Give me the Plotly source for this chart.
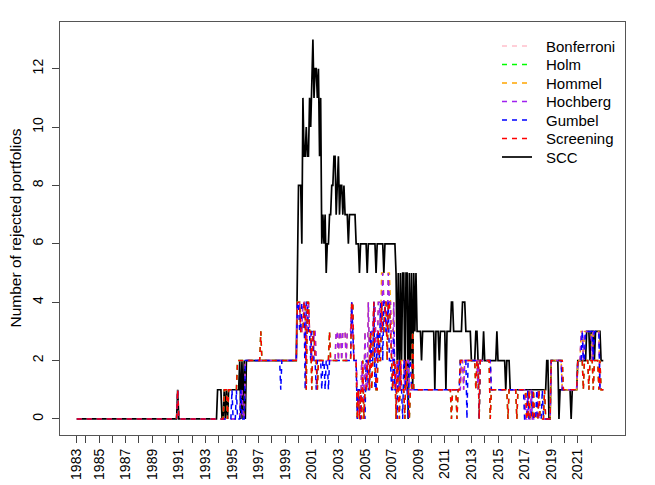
import plotly.graph_objects as go

# ---------------- data (monthly, May 1983 - Dec 2022), run-length encoded ----------------
START = (1983, 5)
END = (2022, 12)

SCC = [
    ("1983-05", 0), ("1990-12", 1), ("1991-01", 0),
    ("1993-12", 1), ("1994-04", 0), ("1994-06", 1), ("1994-07", 0), ("1994-08", 1),
    ("1994-09", 0), ("1994-10", 1), ("1995-08", 2), ("1995-09", 0), ("1995-10", 2),
    ("1995-11", 0), ("1995-12", 2), ("1996-01", 0), ("1996-02", 2),
    ("1999-12", 5), ("2000-01", 8), ("2000-04", 6), ("2000-05", 11), ("2000-06", 9),
    ("2000-08", 10), ("2000-09", 9), ("2000-11", 11), ("2000-12", 10), ("2001-01", 12),
    ("2001-02", 13), ("2001-03", 11), ("2001-04", 12), ("2001-06", 11), ("2001-07", 12),
    ("2001-08", 9), ("2001-09", 11), ("2001-10", 6), ("2001-11", 7), ("2001-12", 6),
    ("2002-01", 7), ("2002-02", 5), ("2002-03", 6), ("2002-05", 7), ("2002-07", 8),
    ("2002-09", 9), ("2002-11", 7), ("2002-12", 8), ("2003-01", 9), ("2003-02", 7),
    ("2003-03", 8), ("2003-05", 7), ("2003-06", 8), ("2003-07", 7), ("2003-10", 6),
    ("2003-11", 7), ("2004-05", 6), ("2004-08", 5), ("2004-09", 6), ("2005-03", 5),
    ("2005-04", 6), ("2005-11", 5), ("2005-12", 6), ("2006-06", 5), ("2006-07", 6),
    ("2007-05", 5), ("2007-06", 2), ("2007-07", 5), ("2007-08", 1), ("2007-09", 5),
    ("2007-10", 2), ("2007-11", 5), ("2008-01", 1), ("2008-02", 5), ("2008-04", 0),
    ("2008-05", 5), ("2008-06", 2), ("2008-07", 5), ("2008-08", 1), ("2008-09", 5),
    ("2008-10", 3), ("2008-11", 5), ("2008-12", 3), ("2009-04", 2), ("2009-05", 3),
    ("2010-04", 1), ("2010-05", 3), ("2010-08", 2), ("2010-09", 3), ("2011-02", 1),
    ("2011-03", 3), ("2011-07", 4), ("2011-09", 3), ("2012-05", 4), ("2012-08", 3),
    ("2013-01", 2), ("2013-05", 3), ("2013-07", 2), ("2013-12", 3), ("2014-01", 2),
    ("2014-12", 3), ("2015-01", 2), ("2015-08", 1), ("2015-09", 2), ("2015-12", 1),
    ("2018-09", 2), ("2018-11", 0), ("2019-01", 2), ("2019-08", 0), ("2019-09", 1),
    ("2020-07", 0), ("2020-08", 1), ("2021-01", 2), ("2021-09", 3), ("2021-12", 2),
    ("2022-01", 3), ("2022-04", 2), ("2022-05", 3), ("2022-10", 2),
]

SCREENING = [
    ("1983-05", 0), ("1990-12", 1), ("1991-01", 0),
    ("1994-06", 1), ("1994-09", 0), ("1994-10", 1), ("1995-06", 2),
    ("1997-03", 3), ("1997-04", 2),
    ("1999-12", 4), ("2000-03", 3), ("2000-06", 4), ("2000-08", 1), ("2000-09", 4),
    ("2000-11", 3), ("2001-01", 1), ("2001-02", 3), ("2001-04", 2), ("2001-06", 1),
    ("2001-07", 2), ("2002-05", 3), ("2002-06", 2), ("2004-01", 4), ("2004-03", 2),
    ("2004-06", 0), ("2004-07", 1), ("2004-08", 0), ("2004-09", 1), ("2004-10", 0),
    ("2004-11", 2), ("2004-12", 0), ("2005-01", 1), ("2005-03", 2), ("2005-05", 1),
    ("2005-06", 3), ("2005-07", 1), ("2005-08", 2), ("2005-09", 4), ("2005-10", 2),
    ("2005-11", 1), ("2006-01", 3), ("2006-02", 2), ("2006-04", 4), ("2006-05", 3),
    ("2006-07", 4), ("2006-09", 2), ("2006-10", 4), ("2006-12", 3), ("2007-01", 2),
    ("2007-02", 1), ("2007-03", 2), ("2007-05", 0), ("2007-06", 2), ("2007-07", 1),
    ("2007-08", 0), ("2007-09", 2), ("2007-10", 1), ("2008-01", 0), ("2008-02", 2),
    ("2008-03", 1), ("2008-05", 0), ("2008-06", 1), ("2008-08", 3), ("2008-09", 1),
    ("2011-07", 0), ("2011-08", 1), ("2011-12", 0), ("2012-01", 1), ("2012-03", 2),
    ("2013-05", 1), ("2013-06", 2), ("2013-08", 0), ("2013-09", 2), ("2014-06", 0),
    ("2014-07", 1), ("2015-10", 0), ("2015-11", 1), ("2016-06", 0), ("2016-07", 1),
    ("2017-03", 0), ("2017-05", 1), ("2017-06", 0), ("2017-09", 1), ("2017-10", 0),
    ("2018-02", 1), ("2018-03", 0), ("2018-07", 1), ("2018-08", 0), ("2019-01", 2),
    ("2019-12", 1), ("2021-01", 2), ("2021-06", 1), ("2021-07", 2), ("2021-11", 1),
    ("2021-12", 2), ("2022-03", 1), ("2022-04", 2), ("2022-08", 1), ("2022-09", 2),
    ("2022-10", 1),
]

GUMBEL = [
    ("1983-05", 0), ("1990-12", 1), ("1991-01", 0),
    ("1995-01", 1), ("1995-02", 0), ("1995-05", 1), ("1995-06", 0), ("1995-09", 1),
    ("1995-10", 0), ("1996-01", 2), ("1998-09", 1), ("1998-10", 2),
    ("1999-12", 4), ("2000-02", 3), ("2000-04", 4), ("2000-07", 1), ("2000-08", 4),
    ("2000-10", 3), ("2000-12", 2), ("2001-01", 3), ("2001-03", 2), ("2001-05", 1),
    ("2001-06", 2), ("2001-10", 1), ("2001-11", 2), ("2002-01", 1), ("2002-02", 2),
    ("2002-04", 1), ("2002-05", 2), ("2004-01", 4), ("2004-02", 3), ("2004-03", 2),
    ("2004-06", 0), ("2004-07", 1), ("2004-09", 0), ("2004-10", 1), ("2005-01", 0),
    ("2005-02", 2), ("2005-04", 1), ("2005-06", 3), ("2005-07", 2), ("2005-09", 4),
    ("2005-10", 1), ("2005-12", 3), ("2006-02", 2), ("2006-03", 4), ("2006-05", 2),
    ("2006-06", 4), ("2006-08", 3), ("2006-10", 4), ("2006-11", 2), ("2007-01", 1),
    ("2007-03", 3), ("2007-04", 1), ("2007-06", 0), ("2007-07", 2), ("2007-09", 1),
    ("2007-11", 0), ("2007-12", 2), ("2008-02", 1), ("2008-04", 0), ("2008-05", 2),
    ("2008-07", 1), ("2012-03", 2), ("2012-09", 0), ("2012-10", 2), ("2013-08", 0),
    ("2013-09", 2), ("2014-07", 1), ("2017-01", 0), ("2017-04", 1), ("2017-05", 0),
    ("2017-08", 1), ("2017-09", 0), ("2017-12", 1), ("2018-01", 0), ("2018-05", 1),
    ("2018-06", 0), ("2019-01", 2), ("2019-11", 1), ("2021-01", 2), ("2021-05", 3),
    ("2021-06", 2), ("2021-08", 3), ("2022-03", 2), ("2022-04", 3), ("2022-09", 1),
]

HOCHBERG = [
    ("1983-05", 0), ("1990-12", 1), ("1991-01", 0),
    ("1995-09", 1), ("1995-11", 0), ("1996-01", 2),
    ("1999-12", 4), ("2000-03", 3), ("2000-05", 4), ("2000-07", 2), ("2000-09", 4),
    ("2000-11", 3), ("2001-01", 2), ("2001-03", 3), ("2001-05", 2), ("2002-11", 3),
    ("2003-01", 2), ("2003-02", 3), ("2003-04", 2), ("2003-05", 3), ("2003-08", 2),
    ("2003-09", 3), ("2004-01", 4), ("2004-02", 3), ("2004-03", 2), ("2004-06", 1),
    ("2004-08", 0), ("2004-10", 2), ("2004-11", 1), ("2005-01", 3), ("2005-02", 1),
    ("2005-04", 4), ("2005-05", 2), ("2005-07", 3), ("2005-09", 4), ("2005-11", 2),
    ("2006-01", 4), ("2006-03", 3), ("2006-05", 5), ("2006-06", 4), ("2006-08", 3),
    ("2006-10", 5), ("2006-11", 4), ("2007-01", 2), ("2007-03", 4), ("2007-04", 1),
    ("2007-06", 2), ("2007-08", 1), ("2007-10", 2), ("2008-01", 1), ("2008-03", 2),
    ("2008-05", 1), ("2012-04", 2), ("2012-06", 1), ("2012-07", 2), ("2013-07", 1),
    ("2013-08", 2), ("2014-07", 1), ("2017-02", 0), ("2017-04", 1), ("2017-05", 0),
    ("2017-07", 1), ("2017-08", 0), ("2018-01", 1), ("2018-02", 0), ("2019-01", 2),
    ("2019-11", 1), ("2021-01", 2), ("2021-04", 3), ("2021-06", 2), ("2021-07", 3),
    ("2022-02", 2), ("2022-03", 3), ("2022-09", 1),
]

HOMMEL = [
    ("1983-05", 0), ("1990-12", 1), ("1991-01", 0),
    ("1995-09", 1), ("1995-11", 0), ("1996-01", 2),
    ("1999-12", 4), ("2000-03", 3), ("2000-05", 4), ("2000-07", 2), ("2000-09", 4),
    ("2000-11", 3), ("2001-01", 2), ("2001-03", 3), ("2001-05", 2), ("2002-11", 3),
    ("2003-01", 2), ("2003-02", 3), ("2003-04", 2), ("2003-05", 3), ("2003-08", 2),
    ("2003-09", 3), ("2004-01", 4), ("2004-02", 3), ("2004-03", 2), ("2004-06", 1),
    ("2004-08", 0), ("2004-10", 2), ("2004-11", 1), ("2005-01", 3), ("2005-02", 1),
    ("2005-04", 4), ("2005-05", 2), ("2005-07", 3), ("2005-09", 4), ("2005-11", 2),
    ("2006-01", 4), ("2006-03", 3), ("2006-04", 5), ("2006-06", 4), ("2006-08", 3),
    ("2006-10", 5), ("2006-12", 4), ("2007-01", 3), ("2007-03", 4), ("2007-04", 1),
    ("2007-06", 2), ("2007-08", 1), ("2007-10", 2), ("2008-01", 1), ("2008-03", 2),
    ("2008-05", 1), ("2012-04", 2), ("2012-06", 1), ("2012-07", 2), ("2013-07", 1),
    ("2013-08", 2), ("2014-07", 1), ("2017-02", 0), ("2017-04", 1), ("2017-05", 0),
    ("2017-07", 1), ("2017-08", 0), ("2018-01", 1), ("2018-02", 0), ("2019-01", 2),
    ("2019-11", 1), ("2021-01", 2), ("2021-04", 3), ("2021-06", 2), ("2021-07", 3),
    ("2022-02", 2), ("2022-03", 3), ("2022-09", 1),
]

# Bonferroni and Holm coincide with other procedures (hidden beneath them in the chart)
BONFERRONI = SCREENING
HOLM = SCREENING

SERIES = [
    ("Bonferroni", BONFERRONI, "#FFC0CB", "dash"),
    ("Holm", HOLM, "#00FF00", "dash"),
    ("Hommel", HOMMEL, "#FFA500", "dash"),
    ("Hochberg", HOCHBERG, "#A020F0", "dash"),
    ("Gumbel", GUMBEL, "#0000FF", "dash"),
    ("Screening", SCREENING, "#FF0000", "dash"),
    ("SCC", SCC, "#000000", "solid"),
]

YEAR_TICKS = list(range(1983, 2023))
Y_TICKS = [0, 2, 4, 6, 8, 10, 12]


def midx(ym):
    y, m = map(int, ym.split("-"))
    return (y - START[0]) * 12 + (m - START[1])


N = midx(f"{END[0]}-{END[1]:02d}") + 1
X = [START[0] + (START[1] - 1 + i) / 12 for i in range(N)]


def expand(changes):
    vals = []
    for i, (ym, v) in enumerate(changes):
        s = midx(ym)
        e = midx(changes[i + 1][0]) if i + 1 < len(changes) else N
        vals += [v] * (e - s)
    return vals


FONT = "Liberation Sans, Arial, Helvetica, sans-serif"
W, H = 655, 485
ML, MR, MT, MB = 60, 30, 22, 50
PW, PH = W - ML - MR, H - MT - MB


def px2paper_x(px):  # page pixel -> paper coordinate
    return (px - ML) / PW


def px2paper_y(py):
    return (H - MB - py) / PH


DASH = "5px,5px"
fig = go.Figure()

traces = {}
for name, ch, col, dash in SERIES:
    traces[name] = go.Scatter(
        x=X, y=expand(ch), mode="lines", name=name, showlegend=False,
        line=dict(color=col, width=1.5 if dash == "dash" else 1.7,
                  dash=DASH if dash == "dash" else "solid"),
    )

# SCC drawn first so the dashed lines sit above it
for n in ["SCC", "Bonferroni", "Holm", "Hommel", "Hochberg", "Gumbel", "Screening"]:
    fig.add_trace(traces[n])

# legend (R-style, no box)
shapes, annotations = [], []
leg_y0, leg_dy = 46, 18.5
for i, (name, ch, col, dash) in enumerate(SERIES):
    yy = px2paper_y(leg_y0 + i * leg_dy)
    shapes.append(dict(type="line", xref="paper", yref="paper",
                       x0=px2paper_x(502), x1=px2paper_x(532), y0=yy, y1=yy,
                       line=dict(color=col, width=1.5 if dash == "dash" else 1.7,
                                 dash=DASH if dash == "dash" else "solid")))
    annotations.append(dict(xref="paper", yref="paper", x=px2paper_x(544), y=yy,
                            xanchor="left", yanchor="middle", text=name, showarrow=False,
                            font=dict(size=15, family=FONT, color="black")))

annotations.append(dict(xref="paper", yref="paper", x=px2paper_x(15), y=0.5,
                        xanchor="center", yanchor="middle", textangle=-90,
                        text="Number of rejected portfolios", showarrow=False,
                        font=dict(size=15.5, family=FONT, color="black")))

tickvals = [START[0] + (START[1] - 1) / 12] + YEAR_TICKS[1:]
ticktext = [str(y) if y % 2 == 1 else "" for y in YEAR_TICKS]

fig.update_layout(
    width=W, height=H,
    margin=dict(l=ML, r=MR, t=MT, b=MB, autoexpand=False),
    paper_bgcolor="white", plot_bgcolor="white",
    font=dict(family=FONT, size=14, color="black"),
    showlegend=False, hovermode=False,
    shapes=shapes, annotations=annotations,
    xaxis=dict(
        range=[1982.068, 2024.549], tickmode="array", tickvals=tickvals, ticktext=ticktext,
        ticks="outside", ticklen=7, tickcolor="#444", tickangle=-90,
        showline=True, mirror=True, linecolor="#555", linewidth=1.2,
        showgrid=False, zeroline=False, tickfont=dict(size=14), automargin=False,
    ),
    yaxis=dict(
        range=[-0.55, 13.6], tickmode="array", tickvals=Y_TICKS,
        ticktext=[str(v) for v in Y_TICKS],
        ticks="outside", ticklen=7, tickcolor="#444", tickangle=-90,
        showline=True, mirror=True, linecolor="#555", linewidth=1.2,
        showgrid=False, zeroline=False, tickfont=dict(size=14), automargin=False,
        ticklabelstandoff=3,
    ),
)

# remove the browser's default 8px body margin so the figure fills the window exactly
fig.write_html("out.html", config={"displayModeBar": False, "staticPlot": True},
               post_script="document.body.style.margin='0';document.body.style.overflow='hidden';")
